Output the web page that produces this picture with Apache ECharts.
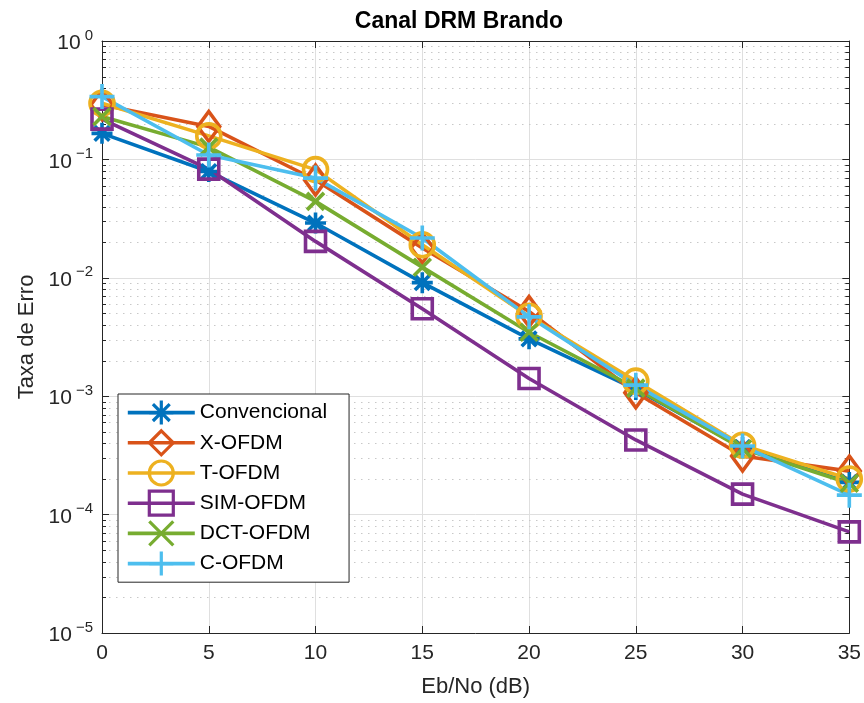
<!DOCTYPE html>
<html>
<head>
<meta charset="utf-8">
<script src="https://cdn.jsdelivr.net/npm/echarts@6/dist/echarts.min.js"></script>
<style>html,body{margin:0;padding:0;background:#fff;}#c{width:864px;height:703px;}</style>
</head>
<body>
<div id="c"></div>
<script>
// ---- data ----
const ebno = [0, 5, 10, 15, 20, 25, 30, 35];
const convencional = [0.166, 0.079, 0.029, 0.0091, 0.00305, 0.00114, 0.000368, 0.000187];
const xofdm = [0.29, 0.19, 0.067, 0.0179, 0.0052, 0.00107, 0.000313, 0.000233];
const tofdm = [0.298, 0.158, 0.082, 0.019, 0.00473, 0.00134, 0.000385, 0.0002];
const simofdm = [0.219, 0.0828, 0.0203, 0.00547, 0.00141, 0.000427, 0.000149, 0.0000715];
const dctofdm = [0.23, 0.127, 0.0442, 0.0123, 0.00347, 0.00117, 0.00036, 0.000184];
const cofdm = [0.339, 0.109, 0.0695, 0.0217, 0.00468, 0.00124, 0.00038, 0.000146];
const seriesNames = ['Convencional', 'X-OFDM', 'T-OFDM', 'SIM-OFDM', 'DCT-OFDM', 'C-OFDM'];
const xTicks = [0, 5, 10, 15, 20, 25, 30, 35];
const decades = [1e-5, 1e-4, 1e-3, 1e-2, 1e-1];
const minorMultipliers = [2, 3, 4, 5, 6, 7, 8, 9];

const minorValues = [];
decades.forEach(d => minorMultipliers.forEach(m => minorValues.push([0, m * d])));

const colors = ['#0072BD', '#D95319', '#EDB120', '#7E2F8E', '#77AC30', '#4DBEEE'];
const FONT = "'Liberation Sans', Arial, Helvetica, sans-serif";
const AX = '#262626';

const symAsterisk = 'path://M50,0 L50,100 M0,50 L100,50 M15,15 L85,85 M15,85 L85,15';
const symX = 'path://M0,0 L100,100 M0,100 L100,0';
const symPlus = 'path://M50,0 L50,100 M0,50 L100,50';

const symDefs = [
  {symbol: symAsterisk, size: 21},
  {symbol: 'diamond', size: [22, 30]},
  {symbol: 'circle', size: 24},
  {symbol: 'rect', size: 20},
  {symbol: symX, size: 17},
  {symbol: symPlus, size: 25}
];
const dataSets = [convencional, xofdm, tofdm, simofdm, dctofdm, cofdm];

const lineSeries = dataSets.map((arr, i) => ({
  name: seriesNames[i],
  type: 'line',
  xAxisIndex: 0,
  yAxisIndex: 0,
  data: ebno.map((x, k) => [x, arr[k]]),
  symbol: symDefs[i].symbol,
  symbolSize: symDefs[i].size,
  symbolKeepAspect: false,
  showAllSymbol: true,
  lineStyle: {color: colors[i], width: 3.6},
  itemStyle: {color: 'rgba(0,0,0,0)', borderColor: colors[i], borderWidth: 3.6},
  emphasis: {disabled: true},
  z: 3,
  animation: false
}));

const minorSeries = {
  type: 'custom',
  name: 'minor',
  xAxisIndex: 0,
  yAxisIndex: 0,
  silent: true,
  z: 1,
  animation: false,
  data: minorValues,
  renderItem: function (params, api) {
    const y = Math.round(api.coord([0, api.value(1)])[1]) + 0.5;
    const cs = params.coordSys;
    const x0 = cs.x, x1 = cs.x + cs.width;
    return {
      type: 'group',
      children: [
        {type: 'line', shape: {x1: x0, y1: y, x2: x1, y2: y}, style: {stroke: '#c8c8c8', lineWidth: 1, lineDash: [1.5, 5.5]}},
        {type: 'line', shape: {x1: x0, y1: y, x2: x0 + 4, y2: y}, style: {stroke: AX, lineWidth: 1}},
        {type: 'line', shape: {x1: x1 - 4, y1: y, x2: x1, y2: y}, style: {stroke: AX, lineWidth: 1}}
      ]
    };
  }
};

function logLabel(v) {
  const e = Math.round(Math.log10(v));
  const s = e < 0 ? '\u2212' + (-e) : String(e);
  return '{b|10}{e|' + s + '}';
}

const chart = echarts.init(document.getElementById('c'), null, {renderer: 'canvas'});
chart.setOption({
  animation: false,
  backgroundColor: '#fff',
  textStyle: {fontFamily: FONT},
  graphic: [{
    type: 'text', x: 459, y: 22,
    style: {text: 'Canal DRM Brando', fontFamily: FONT, fontSize: 23, fontWeight: 'bold', fill: '#000', align: 'center', verticalAlign: 'middle'}
  }],
  grid: {left: 102, right: 12, top: 41, bottom: 69, containLabel: false},
  xAxis: [{
    type: 'value', min: 0, max: 35, interval: 5, position: 'bottom',
    name: 'Eb/No (dB)', nameLocation: 'middle', nameGap: 43,
    nameTextStyle: {fontSize: 22, color: AX, fontFamily: FONT},
    axisLine: {show: true, onZero: false, lineStyle: {color: AX, width: 1}},
    axisTick: {show: true, inside: true, length: 7, lineStyle: {color: AX}},
    axisLabel: {fontSize: 21, color: AX, margin: 10, fontFamily: FONT, formatter: v => xTicks.includes(v) ? String(v) : ''},
    splitLine: {show: true, lineStyle: {color: '#dfdfdf', width: 1}}
  }, {
    type: 'value', min: 0, max: 35, interval: 5, position: 'top',
    axisLine: {show: true, onZero: false, lineStyle: {color: AX, width: 1}},
    axisTick: {show: true, inside: true, length: 7, lineStyle: {color: AX}},
    axisLabel: {show: false},
    splitLine: {show: false}
  }],
  yAxis: [{
    type: 'log', logBase: 10, min: 1e-5, max: 1, position: 'left',
    name: 'Taxa de Erro', nameLocation: 'middle', nameGap: 62, nameRotate: 90,
    nameTextStyle: {fontSize: 22, color: AX, fontFamily: FONT},
    axisLine: {show: true, onZero: false, lineStyle: {color: AX, width: 1}},
    axisTick: {show: true, inside: true, length: 7, lineStyle: {color: AX}},
    axisLabel: {
      color: AX, margin: 9, formatter: logLabel,
      rich: {
        b: {fontSize: 21, fontFamily: FONT, color: AX, lineHeight: 26, verticalAlign: 'bottom'},
        e: {fontSize: 15, fontFamily: FONT, color: AX, lineHeight: 12, verticalAlign: 'top', padding: [0, 0, 0, 4]}
      }
    },
    splitLine: {show: true, lineStyle: {color: '#dfdfdf', width: 1}},
    minorTick: {show: false}
  }, {
    type: 'log', logBase: 10, min: 1e-5, max: 1, position: 'right',
    axisLine: {show: true, onZero: false, lineStyle: {color: AX, width: 1}},
    axisTick: {show: true, inside: true, length: 7, lineStyle: {color: AX}},
    axisLabel: {show: false},
    splitLine: {show: false}
  }],
  legend: {
    data: seriesNames,
    orient: 'vertical',
    left: 118, top: 394,
    itemWidth: 67, itemHeight: 30, itemGap: 3,
    padding: [5, 22, 5, 8],
    backgroundColor: '#fff',
    borderColor: AX, borderWidth: 1, borderRadius: 0,
    textStyle: {fontSize: 21, color: '#000', fontFamily: FONT},
    itemStyle: {borderWidth: 3.2},
    lineStyle: {width: 3.6},
    selectedMode: false
  },
  series: [minorSeries].concat(lineSeries)
});
</script>
</body>
</html>
